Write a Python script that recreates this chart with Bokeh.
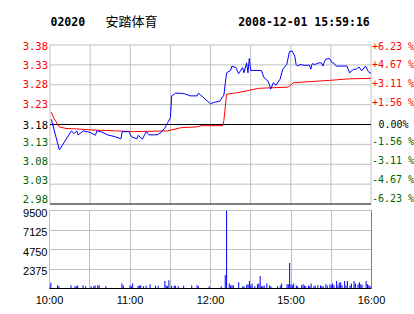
from bokeh.plotting import figure
from bokeh.layouts import column
from bokeh.models import Range1d, FixedTicker, LinearAxis
from bokeh.core.properties import value
from bokeh.embed import file_html
from bokeh.resources import INLINE

# ---------------- data ----------------
stock_code = "02020"
stock_name = "安踏体育"
stamp = "2008-12-01 15:59:16"

ref_price = 3.18
price_ticks = [3.38, 3.33, 3.28, 3.23, 3.18, 3.13, 3.08, 3.03, 2.98]
price_tick_labels = ["3.38", "3.33", "3.28", "3.23", "3.18", "3.13", "3.08", "3.03", "2.98"]
pct_tick_labels = ["+6.23 %", "+4.67 %", "+3.11 %", "+1.56 %", "0.00%",
                   "-1.56 %", "-3.11 %", "-4.67 %", "-6.23 %"]

vol_ticks = [2375, 4750, 7125, 9500]
time_tick_labels = ["10:00", "11:00", "12:00", "15:00", "16:00"]

price_time = ["10:01", "10:07", "10:16", "10:18", "10:20", "10:21", "10:25", "10:30", "10:34", "10:35",
              "10:38", "10:43", "10:49", "10:53", "10:54", "10:59", "11:01", "11:05", "11:06", "11:09",
              "11:12", "11:14", "11:20", "11:23", "11:26", "11:28", "11:30", "11:31", "11:34", "11:40",
              "11:45", "11:50", "11:51", "12:00", "12:02", "12:07", "12:10", "12:12", "12:15", "12:16",
              "12:19", "12:21", "12:24", "12:25", "12:27", "12:28", "12:29", "14:30", "14:32", "14:38",
              "14:40", "14:43", "14:44", "14:45", "14:47", "14:49", "14:52", "14:54", "14:57", "14:59",
              "15:01", "15:03", "15:04", "15:05", "15:07", "15:10", "15:14", "15:15", "15:16", "15:18",
              "15:21", "15:23", "15:24", "15:26", "15:29", "15:31", "15:32", "15:34", "15:42", "15:44",
              "15:47", "15:49", "15:51", "15:53", "15:56", "15:58", "16:00"]
price_val = [3.193, 3.116, 3.164, 3.157, 3.164, 3.154, 3.164, 3.160, 3.153, 3.164,
             3.162, 3.154, 3.149, 3.144, 3.162, 3.162, 3.149, 3.144, 3.153, 3.143,
             3.162, 3.154, 3.154, 3.160, 3.172, 3.185, 3.197, 3.252, 3.259, 3.258,
             3.252, 3.252, 3.259, 3.232, 3.235, 3.239, 3.254, 3.310, 3.316, 3.327,
             3.323, 3.308, 3.323, 3.310, 3.335, 3.310, 3.346, 3.316, 3.316, 3.316,
             3.298, 3.289, 3.281, 3.269, 3.285, 3.279, 3.294, 3.319, 3.331, 3.363,
             3.365, 3.352, 3.331, 3.327, 3.331, 3.329, 3.329, 3.319, 3.333, 3.331,
             3.335, 3.335, 3.327, 3.344, 3.346, 3.335, 3.335, 3.327, 3.327, 3.310,
             3.319, 3.319, 3.325, 3.315, 3.327, 3.313, 3.308]

avg_time = ["10:01", "10:03", "10:07", "10:12", "10:19", "10:33", "10:49", "11:03", "11:28", "11:38",
            "11:50", "11:53", "12:09", "12:10", "12:12", "12:20", "12:29", "14:36", "14:58", "15:02",
            "15:15", "15:29", "15:44", "16:00"]
avg_val = [3.211, 3.195, 3.174, 3.170, 3.169, 3.166, 3.164, 3.162, 3.164, 3.172,
           3.174, 3.177, 3.177, 3.190, 3.256, 3.260, 3.266, 3.271, 3.274, 3.285,
           3.288, 3.291, 3.295, 3.296]

vol_time = ["10:00", "10:01", "10:06", "10:07", "10:16", "10:19", "10:20", "10:21", "10:25", "10:27",
            "10:31", "10:33", "10:34", "10:36", "10:37", "10:42", "10:54", "10:55", "11:00", "11:01",
            "11:02", "11:06", "11:07", "11:08", "11:10", "11:12", "11:15", "11:19", "11:21", "11:26",
            "11:27", "11:28", "11:29", "11:31", "11:33", "11:34", "11:36", "11:40", "11:46", "11:50",
            "11:51", "11:59", "12:08", "12:11", "12:12", "12:14", "12:15", "12:16", "12:17", "12:21",
            "12:24", "12:25", "12:27", "12:28", "12:29", "14:30", "14:31", "14:33", "14:35", "14:36",
            "14:37", "14:38", "14:39", "14:40", "14:42", "14:44", "14:45", "14:50", "14:52", "14:53",
            "14:57", "14:58", "14:59", "15:00", "15:01", "15:02", "15:04", "15:05", "15:08", "15:09",
            "15:10", "15:11", "15:13", "15:14", "15:15", "15:17", "15:18", "15:20", "15:22", "15:23",
            "15:24", "15:26", "15:27", "15:29", "15:30", "15:31", "15:32", "15:34", "15:35", "15:36",
            "15:37", "15:38", "15:40", "15:41", "15:42", "15:44", "15:45", "15:47", "15:48", "15:50",
            "15:51", "15:52", "15:53", "15:56", "15:57", "15:58", "15:59"]
vol_val = [370, 700, 400, 280, 400, 280, 280, 370, 400, 280,
           280, 280, 370, 400, 400, 280, 610, 370, 370, 280,
           610, 330, 330, 400, 280, 330, 530, 330, 330, 900,
           370, 280, 1020, 330, 330, 330, 280, 330, 370, 400,
           280, 280, 280, 1630, 9460, 610, 370, 400, 400, 770,
           280, 280, 450, 530, 900, 370, 610, 280, 530, 610,
           1510, 280, 280, 370, 610, 370, 280, 280, 370, 610,
           530, 530, 3100, 530, 400, 610, 370, 280, 400, 530,
           370, 280, 370, 280, 610, 280, 370, 400, 370, 280,
           280, 530, 370, 530, 400, 610, 400, 900, 370, 700,
           770, 400, 900, 370, 900, 370, 610, 900, 610, 530,
           770, 530, 450, 900, 530, 400, 280]

# ---------------- helpers ----------------
def tmin(s):
    """trading minutes since 10:00 (lunch break 12:30-14:30 removed)"""
    h, m = map(int, s.split(":"))
    t = h * 60 + m
    return t - 600 if t <= 750 else t - 870 + 150

RED = "#FF0000"
GREEN = "#006400"
GRID = "#C0C0C0"
MONO = "DejaVu Sans Mono"
SANS = "Liberation Sans"

T0, T1 = 0, 240
half_hours = [0, 30, 60, 90, 120, 150, 180, 210, 240]
P_LO, P_HI = price_ticks[-1], price_ticks[0]

# layout constants (pixels)
W = 414
LEFT, RIGHT = 49.5, 43.5          # plot-area edges inside the canvas
PLOT_W = W - LEFT - RIGHT
PRICE_TOP, PRICE_H, PRICE_FIG_H = 44.5, 159.0, 205
VOL_FRAME_H = 78
kx = PLOT_W / (T1 - T0)           # px per minute
ky = PRICE_H / (P_HI - P_LO)      # px per price unit
# small vertical nudges of the tick texts (px, + = down), as in the original
left_dy = [1, 0, -0.5, -1, 0.5, -2, -3.5, -4, -5.2]
right_dy = [1, -0.4, -1.4, -2, 0, -2.7, -4, -4.9, -5.7]
vol_label_dy = 2.2

# ---------------- price panel (frame = whole canvas) ----------------
p = figure(width=W, height=PRICE_FIG_H,
           x_range=Range1d(T0 - LEFT / kx, T1 + RIGHT / kx),
           y_range=Range1d(P_LO - (PRICE_FIG_H - PRICE_TOP - PRICE_H) / ky, P_HI + PRICE_TOP / ky),
           x_axis_type=None, y_axis_type=None, toolbar_location=None,
           output_backend="svg", min_border=0, min_border_left=0, min_border_right=0,
           min_border_top=0, min_border_bottom=0)
p.outline_line_color = None
p.background_fill_color = "white"
p.border_fill_color = "white"

# grid
p.segment(x0=half_hours, x1=half_hours, y0=[P_LO] * len(half_hours), y1=[P_HI] * len(half_hours),
          line_color=GRID, line_width=1)
gray_rows = [t for t in price_ticks if t not in (ref_price, P_LO)]
p.segment(x0=[T0] * len(gray_rows), x1=[T1] * len(gray_rows), y0=gray_rows, y1=gray_rows,
          line_color=GRID, line_width=1)
p.segment(x0=[T0, T0], x1=[T1, T1], y0=[ref_price, P_LO], y1=[ref_price, P_LO],
          line_color="black", line_width=1)

# series
p.line([tmin(t) for t in avg_time], avg_val, line_color=RED, line_width=1)
p.line([tmin(t) for t in price_time], price_val, line_color="#0000FF", line_width=1)

# tick labels
cols = [RED if t > ref_price + 1e-9 else ("black" if abs(t - ref_price) < 1e-9 else GREEN)
        for t in price_ticks]
p.text(x=[T0] * len(price_ticks), y=price_ticks, text=price_tick_labels, text_color=cols,
       text_align="right", text_baseline="middle", x_offset=-2, y_offset=left_dy,
       text_font=value(MONO), text_font_size="10.5px")
p.text(x=[T1] * len(price_ticks), y=price_ticks, text=pct_tick_labels, text_color=cols,
       text_align="left", text_baseline="middle",
       x_offset=[1 if s[0] in "+-" else 7.5 for s in pct_tick_labels], y_offset=right_dy,
       text_font=value(MONO), text_font_size="10px")

# title row
p.text(x=[T0], y=[P_HI], text=[stock_code], x_offset=0.5, y_offset=-23.5,
       text_font=value(MONO), text_font_style="bold", text_font_size="11.5px",
       text_color="black", text_baseline="alphabetic")
p.text(x=[T0], y=[P_HI], text=[stock_name], x_offset=55.5, y_offset=-25,
       text_font=value("Noto Sans CJK SC"), text_font_size="13px",
       text_color="black", text_baseline="alphabetic")
p.text(x=[T0], y=[P_HI], text=[stamp], x_offset=188.2, y_offset=-23.5,
       text_font=value(MONO), text_font_style="bold", text_font_size="11.5px",
       text_color="black", text_baseline="alphabetic")

# ---------------- volume panel ----------------
v_max = vol_ticks[-1]
v = figure(width=W, height=109, x_range=Range1d(T0, T1), y_range=Range1d(0, v_max),
           toolbar_location=None, output_backend="svg",
           min_border_left=49, min_border_right=43, min_border_top=5, min_border_bottom=26)
v.outline_line_color = GRID
v.background_fill_color = "white"
v.border_fill_color = "white"

tick_pos = [0, 60, 120, 180, 240]
v.xaxis.ticker = FixedTicker(ticks=tick_pos)
v.xaxis.major_label_overrides = {x: s for x, s in zip(tick_pos, time_tick_labels)}
v.xaxis.axis_line_color = "black"
v.xaxis.major_tick_out = 0
v.xaxis.major_tick_in = 0
v.xaxis.minor_tick_out = 0
v.xaxis.minor_tick_in = 0
v.xaxis.major_label_standoff = 5
v.xaxis.major_label_text_font = SANS
v.xaxis.major_label_text_font_size = "11px"
v.xaxis.major_label_text_color = "black"

# volume labels sit slightly below their grid lines in the original
shift = vol_label_dy * v_max / VOL_FRAME_H
label_pos = [t - shift for t in vol_ticks]
v.yaxis.ticker = FixedTicker(ticks=label_pos)
v.yaxis.major_label_overrides = {lp: str(t) for lp, t in zip(label_pos, vol_ticks)}
v.yaxis.axis_line_color = None
v.yaxis.major_tick_out = 0
v.yaxis.major_tick_in = 0
v.yaxis.minor_tick_out = 0
v.yaxis.minor_tick_in = 0
v.yaxis.major_label_standoff = 2
v.yaxis.major_label_text_font = SANS
v.yaxis.major_label_text_font_size = "11px"
v.yaxis.major_label_text_color = "black"

v.xgrid.ticker = FixedTicker(ticks=half_hours[1:-1])
v.xgrid.grid_line_color = GRID
v.ygrid.ticker = FixedTicker(ticks=vol_ticks)
v.ygrid.grid_line_color = GRID

right_axis = LinearAxis(ticker=FixedTicker(ticks=[]), axis_line_color="#808080",
                        major_tick_out=0, major_tick_in=0, minor_tick_out=0, minor_tick_in=0,
                        major_label_standoff=0, major_label_text_font_size="0px")
v.add_layout(right_axis, "right")

v.vbar(x=[tmin(t) for t in vol_time], top=vol_val, width=0.75, bottom=0,
       fill_color="#0000FF", line_color=None)

# keep each panel's own frame (no frame alignment across the column)
for fig in (p, v):
    if hasattr(fig, "frame_align"):
        fig.frame_align = False

layout = column(p, v, spacing=0)
open("out.html", "w").write(file_html(layout, INLINE))
